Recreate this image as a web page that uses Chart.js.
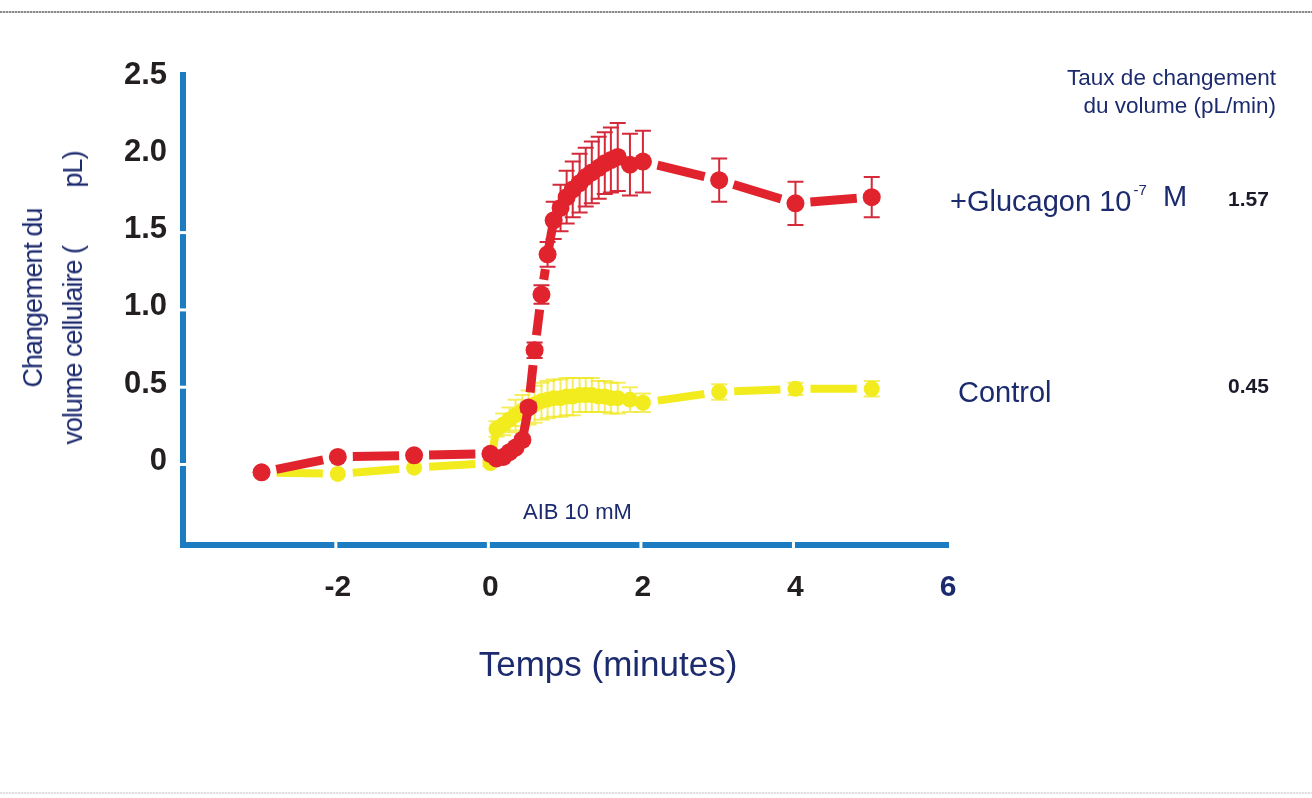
<!DOCTYPE html>
<html>
<head>
<meta charset="utf-8">
<script src="https://cdn.jsdelivr.net/npm/chart.js@4.4.1/dist/chart.umd.min.js"></script>
<style>
  html, body { margin: 0; padding: 0; background: #fff; }
  #wrap { position: relative; width: 1312px; height: 798px; overflow: hidden;
          font-family: "Liberation Sans", Arial, sans-serif; color: #1c2a6e; }
  canvas { position: absolute; left: 0; top: 0; }
  .t { position: absolute; white-space: nowrap; line-height: 1; }
  .rule { position: absolute; left: 0; width: 1312px; height: 2px;
          background: repeating-linear-gradient(90deg, #8a8a8a 0 2px, #d0d0d0 2px 3px); }
</style>
</head>
<body>
<div id="wrap">
  <canvas id="chart" width="1312" height="798"></canvas>
  <div class="rule" style="top:11px;"></div>
  <div class="rule" style="top:792px;opacity:0.25;"></div>

  <!-- y axis title, two rotated lines -->
  <div class="t" style="left:53px;top:298px;transform:translate(-50%,-50%) rotate(-90deg);text-align:center;font-size:27px;line-height:40px;letter-spacing:-1px;">
    Changement du<br>volume cellulaire (&nbsp;&nbsp;&nbsp;&nbsp;&nbsp;&nbsp;&nbsp;&nbsp;&nbsp;pL)
  </div>
  <!-- x axis title -->
  <div class="t" style="left:608px;top:646px;transform:translateX(-50%);font-size:35px;">Temps (minutes)</div>

  <!-- stimulus marker -->
  <div class="t" style="left:523px;top:501px;font-size:22px;">AIB 10 mM</div>

  <!-- rate column -->
  <div class="t" style="right:36px;top:64px;font-size:22.5px;text-align:right;line-height:28px;">Taux de changement<br>du volume (pL/min)</div>
  <div class="t" style="left:950px;top:187px;font-size:29px;">+Glucagon 10<span style="font-size:15px;position:relative;top:-16px;margin-left:2px;">-7</span>&nbsp;&nbsp;<span style="position:relative;top:-5px;">M</span></div>
  <div class="t" style="left:1228px;top:188px;font-size:21px;font-weight:bold;color:#1a1a2a;">1.57</div>
  <div class="t" style="left:958px;top:378px;font-size:29px;">Control</div>
  <div class="t" style="left:1228px;top:375px;font-size:21px;font-weight:bold;color:#1a1a2a;">0.45</div>
</div>

<script>
// Time points (minutes) and cell volume change (pL), mean and error
const timeGlucagon = [-3, -2, -1, 0, 0.08, 0.17, 0.25, 0.33, 0.42, 0.5, 0.58, 0.67, 0.75, 0.83,
                      0.92, 1.0, 1.08, 1.17, 1.25, 1.33, 1.42, 1.5, 1.58, 1.67, 1.83, 2.0, 3, 4, 5];
const volGlucagon  = [-0.07, 0.03, 0.04, 0.05, 0.02, 0.03, 0.06, 0.09, 0.14, 0.35, 0.72, 1.08, 1.34, 1.56,
                      1.64, 1.71, 1.76, 1.80, 1.84, 1.87, 1.90, 1.93, 1.95, 1.97, 1.92, 1.94, 1.82, 1.67, 1.71];
const errGlucagon  = [0, 0, 0, 0, 0.02, 0.02, 0.02, 0.02, 0.02, 0.03, 0.05, 0.06, 0.08, 0.12,
                      0.15, 0.17, 0.18, 0.19, 0.19, 0.2, 0.2, 0.2, 0.21, 0.22, 0.2, 0.2, 0.14, 0.14, 0.13];

const timeControl = [-3, -2, -1, 0, 0.08, 0.17, 0.25, 0.33, 0.42, 0.5, 0.58, 0.67, 0.75, 0.83,
                     0.92, 1.0, 1.08, 1.17, 1.25, 1.33, 1.42, 1.5, 1.58, 1.67, 1.83, 2.0, 3, 4, 5];
const volControl  = [-0.07, -0.08, -0.04, -0.01, 0.21, 0.24, 0.27, 0.30, 0.33, 0.35, 0.37, 0.39, 0.40, 0.41,
                     0.41, 0.42, 0.42, 0.43, 0.43, 0.43, 0.42, 0.42, 0.41, 0.41, 0.40, 0.38, 0.45, 0.47, 0.47];
const errControl  = [0, 0, 0, 0.02, 0.05, 0.07, 0.08, 0.1, 0.1, 0.11, 0.12, 0.12, 0.12, 0.12,
                     0.12, 0.12, 0.12, 0.11, 0.11, 0.11, 0.1, 0.1, 0.1, 0.1, 0.08, 0.06, 0.05, 0.04, 0.05];

const xTickValues = [-2, 0, 2, 4, 6];
const yTickValues = [0, 0.5, 1.0, 1.5, 2.0, 2.5];

const NAVY = '#1c2a6e';
const AXIS_BLUE = '#1b7cc2';
const RED = '#e1232d';
const YELLOW = '#f2ec1f';
const FONT = '"Liberation Sans", Arial, sans-serif';

const toPoints = (xs, ys) => xs.map((x, i) => ({ x, y: ys[i] }));

// each segment between two points gets its own dash, centred, leaving a
// fixed gap around the markers; very short segments are drawn solid
const GAP = 30;
const dashFor = len => (len > GAP + 6 ? len - GAP : len);
const segmentDash = {
  borderDash: ctx => {
    const len = Math.hypot(ctx.p1.x - ctx.p0.x, ctx.p1.y - ctx.p0.y);
    return [dashFor(len), 4000];
  },
  borderDashOffset: ctx => {
    const len = Math.hypot(ctx.p1.x - ctx.p0.x, ctx.p1.y - ctx.p0.y);
    return -(len - dashFor(len)) / 2 + ctx.p0DataIndex * 1e-6;
  }
};

// vertical error bars with caps
const errorBars = {
  id: 'errorBars',
  beforeDatasetDraw(chart, args) {
    const ds = chart.data.datasets[args.index];
    if (!ds.errors) return;
    const y = chart.scales.y;
    const c = chart.ctx;
    c.save();
    c.strokeStyle = ds.errorColor;
    c.lineWidth = ds.errorWidth;
    args.meta.data.forEach((pt, i) => {
      const e = ds.errors[i];
      if (!e) return;
      const v = ds.data[i].y;
      const top = y.getPixelForValue(v + e), bot = y.getPixelForValue(v - e);
      c.beginPath();
      c.moveTo(pt.x, top); c.lineTo(pt.x, bot);
      c.moveTo(pt.x - 8, top); c.lineTo(pt.x + 8, top);
      c.moveTo(pt.x - 8, bot); c.lineTo(pt.x + 8, bot);
      c.stroke();
    });
    c.restore();
  }
};

// small white notches cut into the thick axis lines at the ticks
const axisNotches = {
  id: 'axisNotches',
  afterDraw(chart) {
    const { x, y } = chart.scales;
    const area = chart.chartArea;
    const c = chart.ctx;
    c.save();
    c.strokeStyle = '#ffffff';
    c.lineWidth = 3;
    [0, 0.5, 1.0, 1.5].forEach(v => {
      const py = y.getPixelForValue(v) + 3;
      c.beginPath(); c.moveTo(area.left - 5, py); c.lineTo(area.left + 5, py); c.stroke();
    });
    [-2, 0, 2, 4].forEach(v => {
      const px = x.getPixelForValue(v) - 2;
      c.beginPath(); c.moveTo(px, area.bottom - 5); c.lineTo(px, area.bottom + 5); c.stroke();
    });
    c.restore();
  }
};

new Chart(document.getElementById('chart'), {
  type: 'line',
  data: {
    datasets: [
      {
        label: '+Glucagon',
        data: toPoints(timeGlucagon, volGlucagon),
        errors: errGlucagon,
        errorColor: '#d42a3a',
        errorWidth: 2,
        borderColor: RED,
        backgroundColor: RED,
        borderWidth: 9,
        borderCapStyle: 'butt',
        pointRadius: 9,
        pointBorderWidth: 0,
        pointBackgroundColor: RED,
        segment: segmentDash,
        order: 0,
        clip: false
      },
      {
        label: 'Control',
        data: toPoints(timeControl, volControl),
        errors: errControl,
        errorColor: 'rgba(240,232,40,0.75)',
        errorWidth: 2,
        borderColor: YELLOW,
        backgroundColor: YELLOW,
        borderWidth: 8,
        borderCapStyle: 'butt',
        pointRadius: 8,
        pointBorderWidth: 0,
        pointBackgroundColor: YELLOW,
        segment: segmentDash,
        order: 1,
        clip: false
      }
    ]
  },
  options: {
    responsive: false,
    animation: false,
    devicePixelRatio: 1,
    layout: { padding: { left: 0, top: 75, right: 364, bottom: 0 } },
    plugins: { legend: { display: false }, tooltip: { enabled: false } },
    elements: { line: { tension: 0 } },
    scales: {
      x: {
        type: 'linear',
        min: -4.03,
        max: 6,
        afterBuildTicks: s => { s.ticks = xTickValues.map(v => ({ value: v })); },
        afterFit: s => { s.height = 798 - 545; },
        grid: { display: false, drawTicks: false },
        border: { display: true, color: AXIS_BLUE, width: 6 },
        ticks: {
          padding: 25,
          font: { family: FONT, size: 30, weight: 'bold' },
          color: ctx => (ctx.tick && ctx.tick.value === 6 ? NAVY : '#231f20'),
          callback: v => String(v)
        }
      },
      y: {
        type: 'linear',
        min: -0.54,
        max: 2.5,
        afterBuildTicks: s => { s.ticks = yTickValues.map(v => ({ value: v })); },
        afterFit: s => { s.width = 183; },
        grid: { display: false, drawTicks: false },
        border: { display: true, color: AXIS_BLUE, width: 6 },
        ticks: {
          padding: 16,
          font: { family: FONT, size: 31, weight: 'bold' },
          color: '#231f20',
          callback: v => (v === 0 ? '0' : v.toFixed(1))
        }
      }
    }
  },
  plugins: [errorBars, axisNotches]
});
</script>
</body>
</html>
